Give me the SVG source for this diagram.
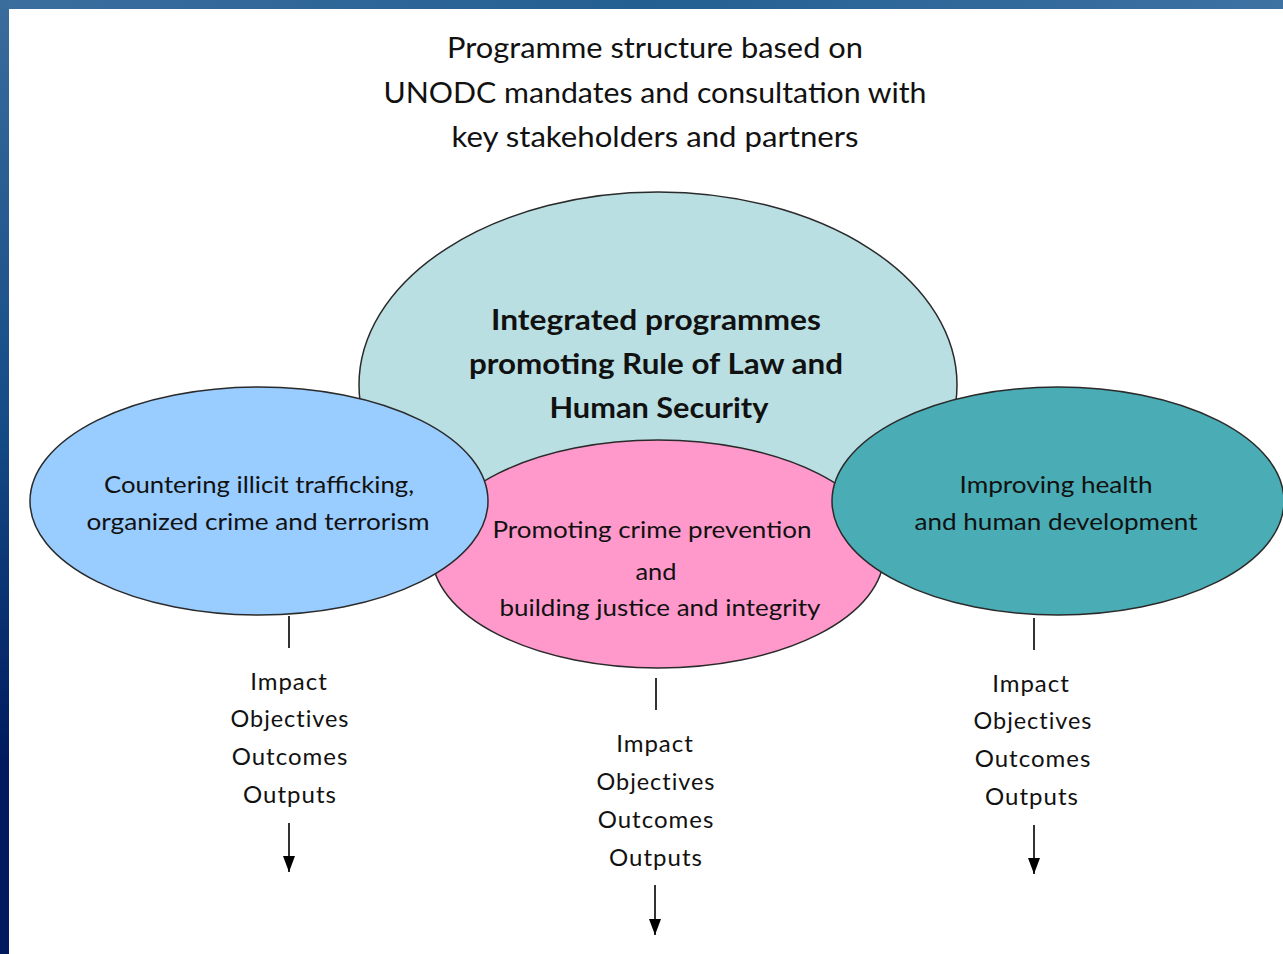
<svg xmlns="http://www.w3.org/2000/svg" width="1283" height="954" viewBox="0 0 1283 954">
<defs>
<linearGradient id="topband" x1="0" y1="0" x2="1" y2="0">
<stop offset="0" stop-color="#3b6e9f"/><stop offset="0.5" stop-color="#245f92"/><stop offset="1" stop-color="#3d72a3"/>
</linearGradient>
<linearGradient id="leftband" x1="0" y1="0" x2="0" y2="1">
<stop offset="0" stop-color="#3a6c9c"/><stop offset="0.45" stop-color="#144b86"/><stop offset="0.8" stop-color="#001a5e"/><stop offset="1" stop-color="#001a5e"/>
</linearGradient>
<marker id="arr" viewBox="0 0 16 12" refX="16" refY="6" markerWidth="16" markerHeight="12" markerUnits="userSpaceOnUse" orient="auto">
<path d="M0,0 L16,6 L0,12 Z" fill="#000"/>
</marker>
</defs>
<style>
text{font-family:Lato,"Open Sans","Liberation Sans",sans-serif;fill:#111;text-anchor:middle}
.title{font-size:28px}
.bold{font-size:28px;font-weight:bold}
.lbl{font-size:24px}
.list{font-size:24px;letter-spacing:1px}
.ell{stroke:#2a2a2a;stroke-width:1.5}
.conn line{stroke:#333;stroke-width:2}
</style>
<rect x="0" y="0" width="1283" height="954" fill="#ffffff"/>
<rect x="0" y="0" width="1283" height="9" fill="url(#topband)"/>
<rect x="0" y="0" width="9" height="954" fill="url(#leftband)"/>

<g id="title">
<text class="title" x="655" y="58" textLength="416" lengthAdjust="spacingAndGlyphs">Programme structure based on</text>
<text class="title" x="655" y="103" textLength="543" lengthAdjust="spacingAndGlyphs">UNODC mandates and consultation with</text>
<text class="title" x="655" y="147" textLength="407" lengthAdjust="spacingAndGlyphs">key stakeholders and partners</text>
</g>

<g id="node-integrated">
<ellipse class="ell" cx="658" cy="385" rx="299" ry="193" fill="#b9dfe3"/>
<text class="bold" x="656" y="330" textLength="330" lengthAdjust="spacingAndGlyphs">Integrated programmes</text>
<text class="bold" x="656" y="374" textLength="374" lengthAdjust="spacingAndGlyphs">promoting Rule of Law and</text>
<text class="bold" x="659" y="418" textLength="219" lengthAdjust="spacingAndGlyphs">Human Security</text>
</g>

<g id="node-crime-prevention">
<ellipse class="ell" cx="658" cy="554" rx="226" ry="114" fill="#ff99cc"/>
<text class="lbl" x="652" y="538" textLength="319" lengthAdjust="spacingAndGlyphs">Promoting crime prevention</text>
<text class="lbl" x="656" y="580" textLength="41" lengthAdjust="spacingAndGlyphs">and</text>
<text class="lbl" x="660" y="616" textLength="321" lengthAdjust="spacingAndGlyphs">building justice and integrity</text>
</g>

<g id="node-trafficking">
<ellipse class="ell" cx="259" cy="501" rx="229" ry="114" fill="#99ccff"/>
<text class="lbl" x="259" y="493" textLength="310" lengthAdjust="spacingAndGlyphs">Countering illicit trafficking,</text>
<text class="lbl" x="258" y="530" textLength="343" lengthAdjust="spacingAndGlyphs">organized crime and terrorism</text>
</g>

<g id="node-health">
<ellipse class="ell" cx="1058" cy="501" rx="226" ry="114" fill="#4aacb5"/>
<text class="lbl" x="1056" y="493" textLength="193" lengthAdjust="spacingAndGlyphs">Improving health</text>
<text class="lbl" x="1056" y="530" textLength="283" lengthAdjust="spacingAndGlyphs">and human development</text>
</g>

<g id="results-left">
<text class="list" x="289" y="690">Impact</text>
<text class="list" x="290" y="727" textLength="119" lengthAdjust="spacingAndGlyphs">Objectives</text>
<text class="list" x="290" y="765">Outcomes</text>
<text class="list" x="290" y="803">Outputs</text>
</g>
<g id="results-middle">
<text class="list" x="655" y="752">Impact</text>
<text class="list" x="656" y="790" textLength="119" lengthAdjust="spacingAndGlyphs">Objectives</text>
<text class="list" x="656" y="828">Outcomes</text>
<text class="list" x="656" y="866">Outputs</text>
</g>
<g id="results-right">
<text class="list" x="1031" y="692">Impact</text>
<text class="list" x="1033" y="729" textLength="119" lengthAdjust="spacingAndGlyphs">Objectives</text>
<text class="list" x="1033" y="767">Outcomes</text>
<text class="list" x="1032" y="805">Outputs</text>
</g>

<g id="connectors" class="conn">
<line x1="289" y1="616" x2="289" y2="648"/>
<line x1="289" y1="823" x2="289" y2="872" marker-end="url(#arr)"/>
<line x1="656" y1="678" x2="656" y2="710"/>
<line x1="655" y1="885" x2="655" y2="935" marker-end="url(#arr)"/>
<line x1="1034" y1="618" x2="1034" y2="650"/>
<line x1="1034" y1="825" x2="1034" y2="874" marker-end="url(#arr)"/>
</g>
</svg>
